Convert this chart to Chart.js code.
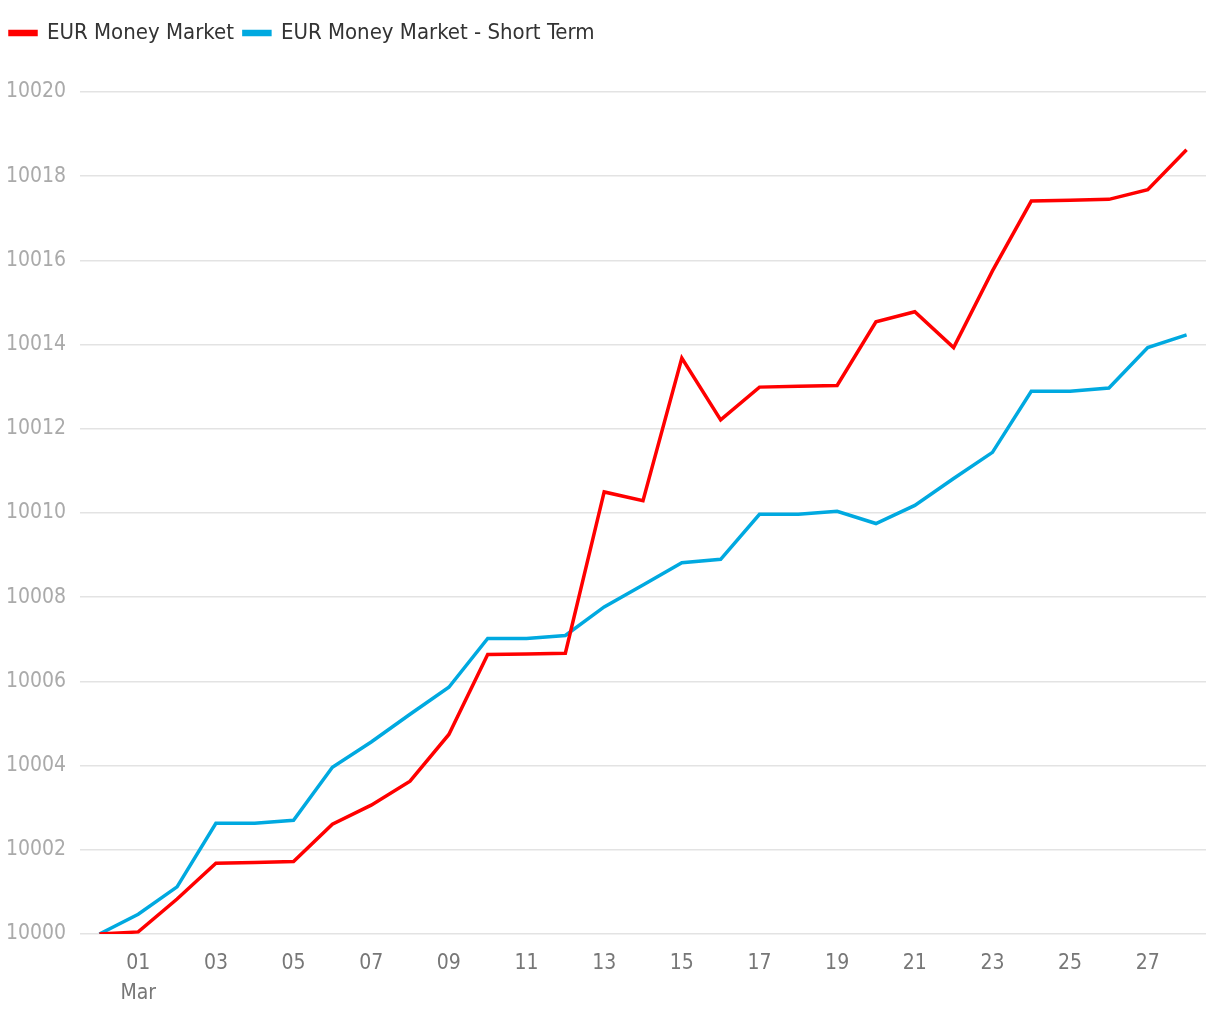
<!DOCTYPE html>
<html>
<head>
<meta charset="utf-8">
<script src="https://cdn.jsdelivr.net/npm/chart.js@4/dist/chart.umd.min.js"></script>
<style>
  html, body { margin: 0; padding: 0; background: #fff; }
  #wrap { width: 1220px; height: 1020px; }
</style>
</head>
<body>
<div id="wrap"><canvas id="perfChart" width="1220" height="1020"></canvas></div>
<script>
// Dates: 29 Feb .. 28 Mar
const dayLabels = ['29', '01', '02', '03', '04', '05', '06', '07', '08', '09', '10', '11', '12', '13',
  '14', '15', '16', '17', '18', '19', '20', '21', '22', '23', '24', '25', '26', '27', '28'];

const moneyMarket = [10000.00, 10000.05, 10000.83, 10001.68, 10001.70, 10001.72, 10002.61, 10003.06,
  10003.63, 10004.74, 10006.64, 10006.65, 10006.67, 10010.50, 10010.29, 10013.68, 10012.21, 10012.99,
  10013.01, 10013.03, 10014.54, 10014.78, 10013.93, 10015.75, 10017.41, 10017.43, 10017.45, 10017.68,
  10018.63];

const moneyMarketShort = [10000.00, 10000.47, 10001.12, 10002.63, 10002.63, 10002.70, 10003.96, 10004.56,
  10005.22, 10005.86, 10007.02, 10007.02, 10007.09, 10007.77, 10008.29, 10008.82, 10008.90, 10009.97,
  10009.97, 10010.04, 10009.75, 10010.18, 10010.82, 10011.44, 10012.89, 10012.89, 10012.97, 10013.93,
  10014.23];

const yMin = 10000;
const yMax = 10020;
const yStep = 2;

const fontFamily = '"Liberation Sans Narrow", "DejaVu Sans Condensed", sans-serif';

// extra room under the legend
const legendSpacing = {
  id: 'legendSpacing',
  beforeInit(chart) {
    const origFit = chart.legend.fit;
    chart.legend.fit = function () {
      origFit.bind(chart.legend)();
      this.height += 38;
    };
  }
};

const ctx = document.getElementById('perfChart').getContext('2d');
const perfChart = new Chart(ctx, {
  type: 'line',
  data: {
    labels: dayLabels,
    datasets: [{
      label: 'EUR Money Market',
      data: moneyMarket,
      borderColor: '#ff0000',
      backgroundColor: '#ff0000',
      borderWidth: 3.5,
      pointRadius: 0,
      tension: 0,
      fill: false
    }, {
      label: 'EUR Money Market - Short Term',
      data: moneyMarketShort,
      borderColor: '#00a9e0',
      backgroundColor: '#00a9e0',
      borderWidth: 3.5,
      pointRadius: 0,
      tension: 0,
      fill: false
    }]
  },
  plugins: [legendSpacing],
  options: {
    responsive: false,
    animation: false,
    layout: {
      padding: { left: 0, right: 14, top: 12, bottom: 0 }
    },
    plugins: {
      tooltip: { enabled: false },
      legend: {
        position: 'top',
        align: 'start',
        labels: {
          boxWidth: 26,
          boxHeight: 3,
          padding: 10,
          color: '#333',
          font: { family: fontFamily, size: 22 }
        }
      }
    },
    scales: {
      x: {
        offset: true,
        afterFit(scale) { scale.height = 86; },
        grid: { display: false, drawTicks: false },
        border: { display: false },
        ticks: {
          autoSkip: false,
          maxRotation: 0,
          padding: 14,
          color: '#777',
          font: { family: fontFamily, size: 21, lineHeight: 1.45 },
          callback: function (value, index) {
            if (index % 2 === 0) return null;
            if (index === 1) return [dayLabels[index], 'Mar'];
            return dayLabels[index];
          }
        }
      },
      y: {
        min: yMin,
        max: yMax,
        afterFit(scale) { scale.width = 80; },
        grid: { color: '#e3e3e3', lineWidth: 1.5, drawTicks: false },
        border: { display: false },
        ticks: {
          stepSize: yStep,
          padding: 14,
          color: '#aaa',
          font: { family: fontFamily, size: 21 },
          callback: value => String(value)
        }
      }
    }
  }
});
</script>
</body>
</html>
